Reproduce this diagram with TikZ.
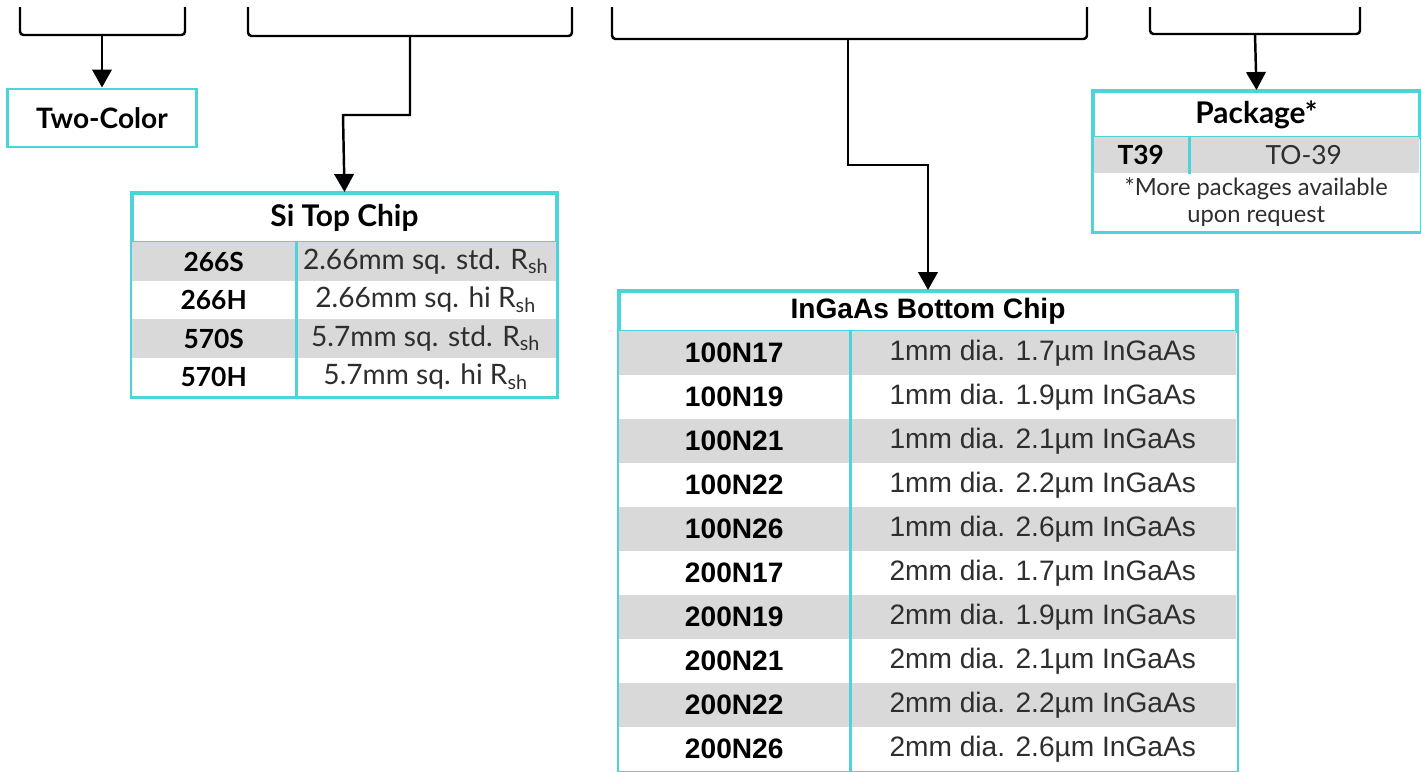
\documentclass[tikz,border=0pt]{standalone}
\usepackage{fontspec}
\setmainfont{Liberation Sans}
\newfontfamily\aptos{Lato}
\usetikzlibrary{arrows.meta, positioning, fit}
\definecolor{tcyan}{HTML}{4FD3DB}
\definecolor{rowgray}{HTML}{D9D9D9}
\definecolor{txtdark}{HTML}{2E2E2E}

\begin{document}
\begin{tikzpicture}[>={Triangle[length=3.6mm, width=3.9mm]}, line width=1.4pt,
  bracket/.style={black, line width=1.4pt, rounded corners=2pt},
  link/.style={black, line width=1.4pt},
  tablebox/.style={draw=tcyan, line width=1.7pt, inner sep=0pt},
  divline/.style={tcyan, line width=1.4pt},
  headcell/.style={draw=tcyan, line width=1.7pt, inner sep=0pt, anchor=north west,
                   text=black},
  cell/.style={inner sep=0pt, anchor=north west},
  aptosfont/.style={font=\aptos\fontsize{#1}{#1}\selectfont},
  arialfont/.style={font=\fontsize{#1}{#1}\selectfont}
]

\useasboundingbox (0,0) rectangle (28.42,-15.44);

% Brackets at the top
\draw[bracket] (0.40,-0.14) |- (3.70,-0.70) -- (3.70,-0.14);
\draw[bracket] (4.96,-0.14) |- (11.44,-0.72) -- (11.44,-0.14);
\draw[bracket] (12.24,-0.14) |- (21.74,-0.78) -- (21.74,-0.14);
\draw[bracket] (23.00,-0.14) |- (27.20,-0.68) -- (27.20,-0.14);
\coordinate (br-color) at (2.04,-0.70);
\coordinate (br-si) at (8.20,-0.72);
\coordinate (br-ingaas) at (16.96,-0.78);
\coordinate (br-pkg) at (25.10,-0.68);

% Two-Color box
\node[draw=tcyan, line width=1.7pt, minimum width=3.78cm, minimum height=1.16cm,
      aptosfont=16, inner sep=0pt] (twocolor) at (2.04,-2.36) {\bfseries Two-Color};

% Si top chip table
\node[headcell, aptosfont=17, minimum width=8.48cm, minimum height=0.98cm]
  (si-head) at (2.62,-3.84) {\bfseries Si Top Chip};
\foreach \code/\desc [count=\i] in {266S/2.66mm sq. std. R\textsubscript{sh},
    266H/2.66mm sq. hi R\textsubscript{sh}, 570S/5.7mm sq. std. R\textsubscript{sh},
    570H/5.7mm sq. hi R\textsubscript{sh}} {
  \pgfmathtruncatemacro\shade{isodd(\i)*100}
  \node[cell, fill=rowgray!\shade!white, aptosfont=15, minimum width=3.26cm,
        minimum height=0.77cm] (si-code\i) at (2.62,{-4.82-(\i-1)*0.77}) {\bfseries\code};
  \node[cell, fill=rowgray!\shade!white, aptosfont=16, text=txtdark, minimum width=5.22cm,
        minimum height=0.77cm] (si-desc\i) at (5.88,{-4.82-(\i-1)*0.77}) {\desc};
}
\draw[divline] (si-code1.north east) -- (si-code4.south east);
\node[tablebox, fit=(si-head)(si-code4)(si-desc4)] (si) {};

% InGaAs bottom chip table
\node[headcell, arialfont=16, minimum width=12.34cm, minimum height=0.80cm]
  (in-head) at (12.36,-5.80) {\bfseries InGaAs Bottom Chip};
\foreach \code/\desc [count=\i] in {100N17/1mm dia. 1.7µm InGaAs,
    100N19/1mm dia. 1.9µm InGaAs, 100N21/1mm dia. 2.1µm InGaAs,
    100N22/1mm dia. 2.2µm InGaAs, 100N26/1mm dia. 2.6µm InGaAs,
    200N17/2mm dia. 1.7µm InGaAs, 200N19/2mm dia. 1.9µm InGaAs,
    200N21/2mm dia. 2.1µm InGaAs, 200N22/2mm dia. 2.2µm InGaAs,
    200N26/2mm dia. 2.6µm InGaAs} {
  \pgfmathtruncatemacro\shade{isodd(\i)*100}
  \node[cell, fill=rowgray!\shade!white, arialfont=16, minimum width=4.60cm,
        minimum height=0.88cm] (in-code\i) at (12.36,{-6.60-(\i-1)*0.88}) {\bfseries\code};
  \node[cell, fill=rowgray!\shade!white, arialfont=16, text=txtdark, minimum width=7.74cm,
        minimum height=0.88cm] (in-desc\i) at (16.96,{-6.60-(\i-1)*0.88}) {\desc};
}
\draw[divline] (in-code1.north east) -- (in-code10.south east);
\node[tablebox, fit=(in-head)(in-code10)(in-desc10)] (ingaas) {};

% Package table
\node[headcell, aptosfont=17, minimum width=6.52cm, minimum height=0.92cm]
  (pkg-head) at (21.84,-1.80) {\bfseries Package*};
\node[cell, fill=rowgray, aptosfont=15, minimum width=1.90cm, minimum height=0.72cm]
  (pkg-code) at (21.84,-2.72) {\bfseries T39};
\node[cell, fill=rowgray, aptosfont=15, text=txtdark, minimum width=4.62cm,
      minimum height=0.72cm] (pkg-desc) at (23.74,-2.72) {TO-39};
\node[cell, aptosfont=13.5, text=txtdark, align=center, minimum width=6.52cm,
      minimum height=1.16cm] (pkg-note) at (21.84,-3.44)
  {*More packages available\\[2pt]upon request};
\draw[divline] (pkg-code.north east) -- (pkg-code.south east);
\node[tablebox, fit=(pkg-head)(pkg-note)] (pkg) {};

% Connectors
\draw[link, ->] (br-color) -- (twocolor.north);
\coordinate (si-jog) at (6.86,-2.30);
\draw[link, ->] (br-si) |- (si-jog) -- (si-head.north);
\coordinate (in-jog) at (18.56,-3.30);
\draw[link, ->] (br-ingaas) |- (in-jog) -- (in-jog |- in-head.north);
\draw[link, ->] (br-pkg) -- (pkg-head.north);

\end{tikzpicture}
\end{document}
